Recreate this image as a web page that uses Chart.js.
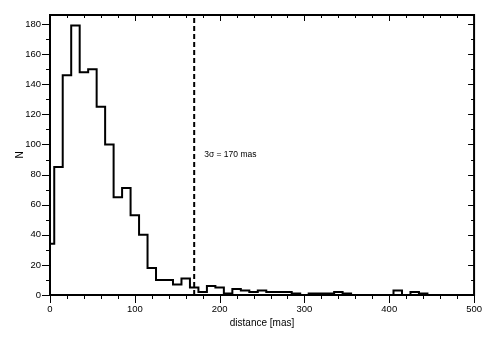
<!DOCTYPE html>
<html>
<head>
<meta charset="utf-8">
<script src="https://cdn.jsdelivr.net/npm/chart.js@4.4.0/dist/chart.umd.min.js"></script>
<style>
  html, body { margin: 0; padding: 0; background: #fff; }
  #wrap { width: 491px; height: 346px; }
</style>
</head>
<body>
<div id="wrap"><canvas id="histChart" width="491" height="346"></canvas></div>
<script>
// bin centres (mas), bin width 10, first bin clipped at 0
const binCenters = [0, 10, 20, 30, 40, 50, 60, 70, 80, 90,
                    100, 110, 120, 130, 140, 150, 160, 170, 180, 190,
                    200, 210, 220, 230, 240, 250, 260, 270, 280, 290,
                    300, 310, 320, 330, 340, 350, 360, 370, 380, 390,
                    400, 410, 420, 430, 440, 450, 460, 470, 480, 490, 500];
// counts per bin
const counts = [34, 85, 146, 179, 148, 150, 125, 100, 65, 71,
                53, 40, 18, 10, 10, 7, 11, 5, 2, 6,
                5, 1, 4, 3, 2, 3, 2, 2, 2, 1,
                0, 1, 1, 1, 2, 1, 0, 0, 0, 0,
                0, 3, 0, 2, 1, 0, 0, 0, 0, 0, 0];
const sigmaLimit = 170;          // 3 sigma cut (mas)
const sigmaLabel = '3σ = 170 mas';
const xTicks = [0, 100, 200, 300, 400, 500];
const yTicks = [0, 20, 40, 60, 80, 100, 120, 140, 160, 180];

const FONT = '"Liberation Sans", Arial, Helvetica, sans-serif';

// marco con marcas menores en los cuatro lados + texto de anotación
const frameTicks = {
    id: 'frameTicks',
    afterDatasetsDraw(chart) {
        const { ctx, chartArea: a, scales: { x, y } } = chart;
        ctx.save();
        ctx.strokeStyle = '#000';
        ctx.lineWidth = 1;
        ctx.beginPath();
        for (let v = x.min; v <= x.max; v += 20) {
            const px = Math.round(x.getPixelForValue(v)) + 0.5;
            const major = v % 100 === 0;
            ctx.moveTo(px, a.bottom); ctx.lineTo(px, a.bottom + (major ? 8 : 4));
            ctx.moveTo(px, a.top); ctx.lineTo(px, a.top + (major ? 6 : 3));
        }
        for (let v = y.min; v <= y.max; v += 10) {
            const py = Math.round(y.getPixelForValue(v)) + 0.5;
            const major = v % 20 === 0;
            ctx.moveTo(a.left, py); ctx.lineTo(a.left - (major ? 8 : 4), py);
            ctx.moveTo(a.right, py); ctx.lineTo(a.right - (major ? 6 : 3), py);
        }
        ctx.stroke();

        ctx.lineWidth = 2;
        ctx.strokeRect(a.left, a.top, a.right - a.left, a.bottom - a.top);

        ctx.fillStyle = '#000';
        ctx.font = '8.5px ' + FONT;
        ctx.textBaseline = 'middle';
        ctx.textAlign = 'left';
        ctx.fillText(sigmaLabel, x.getPixelForValue(sigmaLimit) + 10, y.getPixelForValue(93));
        ctx.restore();
    }
};

new Chart(document.getElementById('histChart').getContext('2d'), {
    type: 'line',
    data: {
        datasets: [{
            data: binCenters.map((c, i) => ({ x: c, y: counts[i] })),
            stepped: 'middle',
            borderColor: '#000',
            borderWidth: 2,
            pointRadius: 0,
            fill: false
        }, {
            data: [{ x: sigmaLimit, y: 0 }, { x: sigmaLimit, y: 186 }],
            borderColor: '#000',
            borderWidth: 2,
            borderDash: [5, 3],
            pointRadius: 0,
            fill: false
        }]
    },
    options: {
        responsive: false,
        devicePixelRatio: 1,
        animation: false,
        layout: { padding: { top: 15, right: 15, left: 0, bottom: 0 } },
        plugins: { legend: { display: false }, tooltip: { enabled: false } },
        scales: {
            x: {
                type: 'linear',
                min: 0,
                max: 500,
                afterFit: s => { s.height = 51; },
                afterBuildTicks: s => { s.ticks = xTicks.map(v => ({ value: v })); },
                grid: { display: false, drawTicks: false },
                border: { display: false },
                ticks: { color: '#000', padding: 9, maxRotation: 0, font: { family: FONT, size: 9.5 } },
                title: { display: true, text: 'distance [mas]', color: '#000', padding: { top: 0, bottom: 17 }, font: { family: FONT, size: 10 } }
            },
            y: {
                min: 0,
                max: 186,
                afterFit: s => { s.width = 50; },
                afterBuildTicks: s => { s.ticks = yTicks.map(v => ({ value: v })); },
                grid: { display: false, drawTicks: false },
                border: { display: false },
                ticks: { color: '#000', padding: 9, font: { family: FONT, size: 9.5 } },
                title: { display: true, text: 'N', color: '#000', padding: { top: 14, bottom: 0 }, font: { family: FONT, size: 10 } }
            }
        }
    },
    plugins: [frameTicks]
});
</script>
</body>
</html>
